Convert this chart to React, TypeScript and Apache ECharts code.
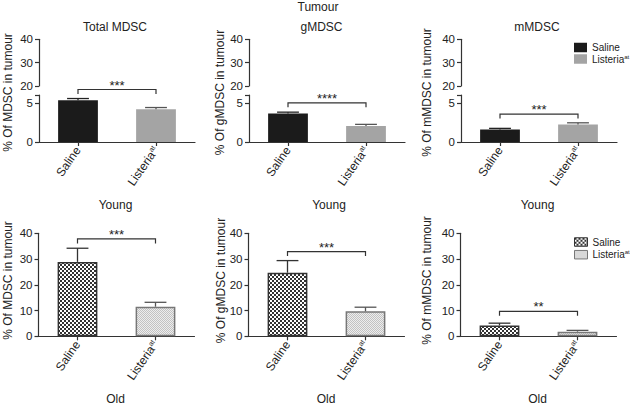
import React, { useEffect, useRef } from 'react';
import * as echarts from 'echarts';

// ---------- data ----------
const categories = ['Saline', 'Listeria'];
const panelTitles = ['Total MDSC', 'gMDSC', 'mMDSC'];
const yLabels = ['% Of MDSC in tumour', '% Of gMDSC in tumour', '% Of mMDSC in tumour'];

const youngSaline = [5.34, 3.64, 1.61];
const youngSalineErr = [0.21, 0.17, 0.13];
const youngListeria = [4.19, 2.03, 2.25];
const youngListeriaErr = [0.21, 0.22, 0.2];
const youngBracketY = [6.7, 5.0, 3.56];
const youngStars = ['***', '****', '***'];

const oldSaline = [28.9, 24.7, 4.2];
const oldSalineErr = [5.3, 4.7, 0.9];
const oldListeria = [11.5, 9.7, 1.8];
const oldListeriaErr = [1.7, 1.6, 0.5];
const oldBracketY = [37.8, 32.9, 9.7];
const oldStars = ['***', '***', '**'];

const upperAxis = { min: 20, max: 40, interval: 10 };
const lowerAxis = { min: 0, max: 6, interval: 5 };
const oldAxis = { min: 0, max: 40, interval: 10 };

// ---------- layout / style ----------
const FONT = '"Liberation Sans", Arial, Helvetica, sans-serif';
const AX = '#333';
const TXT = '#222';
const topLefts = [39, 249, 461];
const botLefts = [38.5, 248.5, 460.5];
const GW = 156;
const LABEL_ROTATE = 55;

function makePattern(size: number, bg: string, fg: string, cells: number[][]) {
  const c = document.createElement('canvas');
  c.width = size;
  c.height = size;
  const ctx = c.getContext('2d')!;
  ctx.fillStyle = bg;
  ctx.fillRect(0, 0, size, size);
  ctx.fillStyle = fg;
  cells.forEach(([x, y, w, h]) => ctx.fillRect(x, y, w, h));
  return { image: c, repeat: 'repeat' } as any;
}

const fmtRich = (v: string) => (v === 'Listeria' ? '{n|Listeria}{s|at}' : '{n|' + v + '}');

export default function App() {
  const ref = useRef<HTMLDivElement>(null);
  useEffect(() => {
    const el = ref.current!;
    const chart = echarts.init(el, null, { renderer: 'svg' });

    const salinePat = makePattern(4, '#ffffff', '#333333', [[0, 0, 2, 2], [2, 2, 2, 2]]);
    const listPat = makePattern(2, '#ededed', '#c2c2c2', [[0, 0, 1, 1], [1, 1, 1, 1]]);

    const grids: any[] = [];
    const xAxes: any[] = [];
    const yAxes: any[] = [];
    const series: any[] = [];

    const yBase = () => ({
      type: 'value',
      axisLine: { show: true, lineStyle: { color: AX, width: 1.2 } },
      axisTick: { show: true, length: 4, lineStyle: { color: AX, width: 1.2 } },
      splitLine: { show: false },
      axisLabel: { color: TXT, fontSize: 11.5, fontFamily: FONT, margin: 6 },
    });
    const xBase = () => ({
      type: 'category',
      data: categories,
      axisLine: { show: true, lineStyle: { color: AX, width: 1.2 } },
      axisTick: { show: true, alignWithLabel: true, length: 4, lineStyle: { color: AX, width: 1.2 } },
      axisLabel: {
        rotate: LABEL_ROTATE, margin: 6, interval: 0, formatter: fmtRich,
        rich: {
          n: { fontSize: 12, fontFamily: FONT, color: TXT },
          s: { fontSize: 7, fontFamily: FONT, color: TXT, padding: [0, 0, 6, 0] },
        },
      },
    });

    const addGrid = (g: any, x: any, y: any) => {
      grids.push(g);
      const gi = grids.length - 1;
      xAxes.push({ ...x, gridIndex: gi });
      yAxes.push({ ...y, gridIndex: gi });
      return gi;
    };

    const errSeries = (gi: number, items: number[][], colors: string[]) => ({
      type: 'custom',
      xAxisIndex: gi,
      yAxisIndex: gi,
      z: 5,
      data: items,
      renderItem: (params: any, api: any) => {
        const x = api.value(0);
        const p0 = api.coord([x, api.value(1)]);
        const p1 = api.coord([x, api.value(2)]);
        const half = api.size([1, 0])[0] * 0.14;
        const col = colors[params.dataIndex];
        return {
          type: 'group',
          children: [
            { type: 'line', shape: { x1: p0[0], y1: p0[1], x2: p1[0], y2: p1[1] }, style: { stroke: col, lineWidth: 1.3 } },
            { type: 'line', shape: { x1: p1[0] - half, y1: p1[1], x2: p1[0] + half, y2: p1[1] }, style: { stroke: col, lineWidth: 1.3 } },
          ],
        };
      },
    });

    const bracketSeries = (gi: number, yv: number, stars: string) => ({
      type: 'custom',
      xAxisIndex: gi,
      yAxisIndex: gi,
      z: 6,
      clip: false,
      data: [[0, yv, 1]],
      renderItem: (params: any, api: any) => {
        const y = api.value(1);
        const a = api.coord([api.value(0), y]);
        const b = api.coord([api.value(2), y]);
        return {
          type: 'group',
          children: [
            {
              type: 'polyline',
              shape: { points: [[a[0], a[1] + 4.5], [a[0], a[1]], [b[0], b[1]], [b[0], b[1] + 4.5]] },
              style: { stroke: AX, lineWidth: 1.2, fill: 'none' },
            },
            {
              type: 'text',
              x: (a[0] + b[0]) / 2,
              y: a[1] - 4.5,
              style: { text: stars, fill: TXT, fontSize: 13, fontFamily: FONT, align: 'center', verticalAlign: 'middle' },
            },
          ],
        };
      },
    });

    for (let i = 0; i < 3; i++) {
      addGrid(
        { left: topLefts[i], width: GW, top: 39.3, height: 46.7 },
        { ...xBase(), show: false },
        { ...yBase(), ...upperAxis }
      );
      const yl = yBase();
      const lo = addGrid(
        { left: topLefts[i], width: GW, top: 95, height: 47 },
        xBase(),
        {
          ...yl,
          ...lowerAxis,
          axisLabel: { ...yl.axisLabel, formatter: (v: number) => (v === 6 ? '' : String(v)) },
        }
      );
      series.push({
        type: 'bar', name: 'Saline', xAxisIndex: lo, yAxisIndex: lo,
        data: [youngSaline[i], '-'], barWidth: '51%', barGap: '-100%',
        itemStyle: { color: '#1b1b1b' },
      });
      series.push({
        type: 'bar', name: 'Listeria', xAxisIndex: lo, yAxisIndex: lo,
        data: ['-', youngListeria[i]], barWidth: '51%', barGap: '-100%',
        itemStyle: { color: '#a4a4a4' },
      });
      series.push(errSeries(lo, [
        [0, youngSaline[i], youngSaline[i] + youngSalineErr[i]],
        [1, youngListeria[i], youngListeria[i] + youngListeriaErr[i]],
      ], ['#222', '#555']));
      series.push(bracketSeries(lo, youngBracketY[i], youngStars[i]));

      const og = addGrid(
        { left: botLefts[i], width: GW, top: 233.3, height: 103 },
        xBase(),
        { ...yBase(), ...oldAxis }
      );
      series.push({
        type: 'bar', name: 'Saline', xAxisIndex: og, yAxisIndex: og,
        data: [oldSaline[i], '-'], barWidth: '51%', barGap: '-100%',
        itemStyle: { color: salinePat, borderColor: '#333', borderWidth: 1.5 },
      });
      series.push({
        type: 'bar', name: 'Listeria', xAxisIndex: og, yAxisIndex: og,
        data: ['-', oldListeria[i]], barWidth: '51%', barGap: '-100%',
        itemStyle: { color: listPat, borderColor: '#777', borderWidth: 1.5 },
      });
      series.push(errSeries(og, [
        [0, oldSaline[i], oldSaline[i] + oldSalineErr[i]],
        [1, oldListeria[i], oldListeria[i] + oldListeriaErr[i]],
      ], ['#333', '#555']));
      series.push(bracketSeries(og, oldBracketY[i], oldStars[i]));
    }

    const legendRich = {
      n: { fontSize: 10, fontFamily: FONT, color: TXT },
      s: { fontSize: 6, fontFamily: FONT, color: TXT, padding: [0, 0, 5, 0] },
    };
    const legendFmt = (name: string) => (name === 'Listeria' ? '{n|Listeria}{s|at}' : '{n|' + name + '}');

    const textEl = (text: string, x: number, y: number, rot = 0) => ({
      type: 'text',
      x, y, rotation: rot,
      style: {
        text, fill: TXT, fontSize: 12, fontFamily: FONT,
        align: 'center', verticalAlign: 'middle', textAlign: 'center', textVerticalAlign: 'middle',
      },
    });

    const graphic: any[] = [
      textEl('Tumour', 318, 7),
      textEl(panelTitles[0], 115, 26.5),
      textEl(panelTitles[1], 321.5, 26.5),
      textEl(panelTitles[2], 537, 26.5),
      textEl('Young', 115.5, 204.5),
      textEl('Young', 329, 204.5),
      textEl('Young', 537.5, 204.5),
      textEl('Old', 115.5, 399),
      textEl('Old', 326, 399),
      textEl('Old', 537.5, 399),
      textEl(yLabels[0], 7.5, 92.5, Math.PI / 2),
      textEl(yLabels[1], 220, 92.5, Math.PI / 2),
      textEl(yLabels[2], 427.3, 92.5, Math.PI / 2),
      textEl(yLabels[0], 7.5, 280.5, Math.PI / 2),
      textEl(yLabels[1], 220.5, 280.5, Math.PI / 2),
      textEl(yLabels[2], 427.3, 280.5, Math.PI / 2),
    ];

    const option: any = {
      animation: false,
      backgroundColor: '#ffffff',
      textStyle: { fontFamily: FONT },
      grid: grids,
      xAxis: xAxes,
      yAxis: yAxes,
      series,
      graphic,
      legend: [
        {
          orient: 'vertical', left: 574, top: 42, padding: 0,
          itemWidth: 13, itemHeight: 9.5, itemGap: 0.5, icon: 'rect', selectedMode: false,
          formatter: legendFmt,
          textStyle: { fontSize: 10, lineHeight: 11, color: TXT, fontFamily: FONT, rich: legendRich },
          data: [
            { name: 'Saline', itemStyle: { color: '#1b1b1b' } },
            { name: 'Listeria', itemStyle: { color: '#a4a4a4' } },
          ],
        },
        {
          orient: 'vertical', left: 574, top: 236.5, padding: 0,
          itemWidth: 13, itemHeight: 8.5, itemGap: 1.7, icon: 'rect', selectedMode: false,
          formatter: legendFmt,
          textStyle: { fontSize: 10, lineHeight: 11, color: TXT, fontFamily: FONT, rich: legendRich },
          data: [
            { name: 'Saline', itemStyle: { color: salinePat, borderColor: '#333', borderWidth: 1 } },
            { name: 'Listeria', itemStyle: { color: listPat, borderColor: '#777', borderWidth: 1 } },
          ],
        },
      ],
    };

    chart.setOption(option);
    return () => chart.dispose();
  }, []);

  return <div ref={ref} style={{ position: 'absolute', left: 0, top: 0, width: 630, height: 406 }} />;
}
